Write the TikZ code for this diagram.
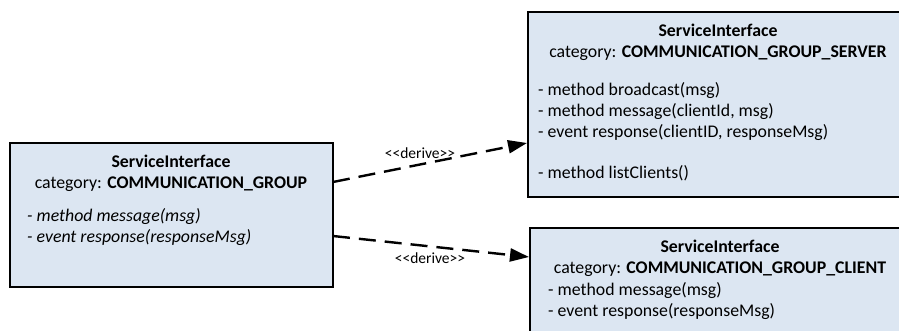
\documentclass[tikz,border=0pt]{standalone}
\usepackage{fontspec}
\setmainfont{Carlito}
\usetikzlibrary{arrows.meta}
\definecolor{boxfill}{HTML}{DCE6F2}
\tikzset{
  iface/.style={draw=black, line width=2.2pt, fill=boxfill},
  txt/.style={inner sep=0pt, anchor=base, font=\fontsize{17.8}{21}\selectfont},
  ltxt/.style={txt, anchor=base west},
  derive/.style={line width=2.4pt, dash pattern=on 17pt off 9pt, -{Triangle[length=19pt,width=13pt]}},
  lbl/.style={inner sep=0pt, font=\fontsize{15.5}{17}\selectfont}
}
\begin{document}
\begin{tikzpicture}[x=1pt,y=-1pt]
\useasboundingbox (0,0) rectangle (899,331);
\clip (0,0) rectangle (899,331);
% boxes
\draw[iface] (10,143) rectangle (333,287);
\draw[iface] (528,12) rectangle (910,197);
\draw[iface] (530,228) rectangle (910,345);
\coordinate (groupR1) at (333,182);
\coordinate (groupR2) at (333,236);
\coordinate (serverL) at (527,143);
\coordinate (clientL) at (529,257);
% left box text
\node[txt] (g1) at (171,167.5) {\textbf{ServiceInterface}};
\node[txt] (g2) at (171,188.5) {category: \textbf{COMMUNICATION\_GROUP}};
\node[ltxt] (g3) at (27,221.5) {\itshape - method message(msg)};
\node[ltxt] (g4) at (27,242.5) {\itshape - event response(responseMsg)};
% server box text
\node[txt] (s1) at (718,36.5) {\textbf{ServiceInterface}};
\node[txt] (s2) at (718,57.5) {category: \textbf{COMMUNICATION\_GROUP\_SERVER}};
\node[ltxt] (s3) at (538,95.5) {- method broadcast(msg)};
\node[ltxt] (s4) at (538,116.5) {- method message(clientId, msg)};
\node[ltxt] (s5) at (538,137.5) {- event response(clientID, responseMsg)};
\node[ltxt] (s6) at (538,178.5) {- method listClients()};
% client box text
\node[txt] (c1) at (720,252.5) {\textbf{ServiceInterface}};
\node[txt] (c2) at (720,273.5) {category: \textbf{COMMUNICATION\_GROUP\_CLIENT}};
\node[ltxt] (c3) at (548,295.5) {- method message(msg)};
\node[ltxt] (c4) at (548,316.5) {- event response(responseMsg)};
% connectors
\draw[derive] (groupR1) -- (serverL);
\draw[derive] (groupR2) -- (clientL);
\node[lbl] (d1) at (420,153) {<{}<derive>{}>};
\node[lbl] (d2) at (430,258) {<{}<derive>{}>};
\end{tikzpicture}
\end{document}
